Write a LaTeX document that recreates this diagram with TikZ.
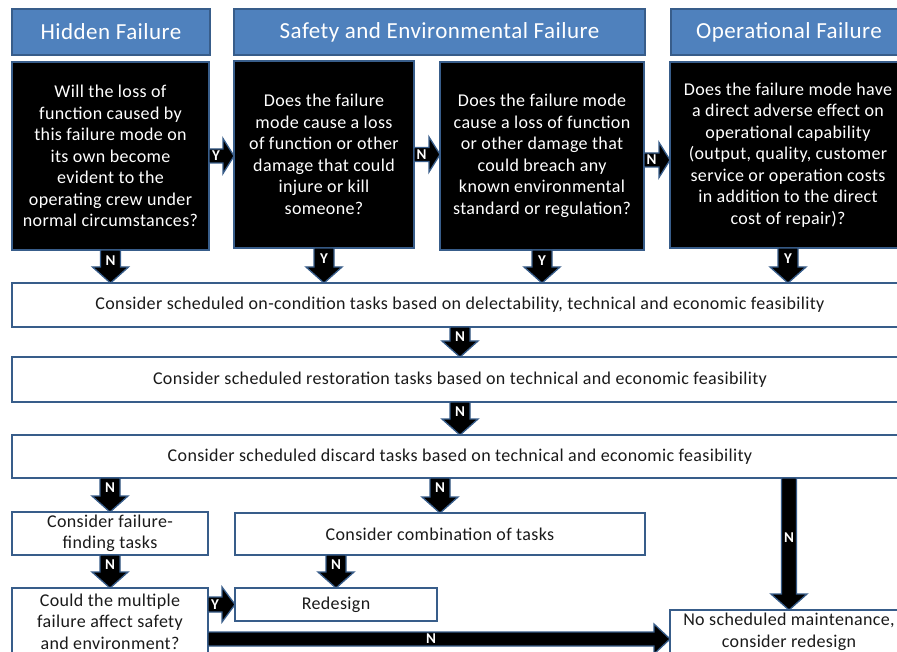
\documentclass[tikz,border=0pt]{standalone}
\usepackage{fontspec}
\setmainfont{Carlito}[LetterSpace=2]
\usetikzlibrary{calc}
\definecolor{hdrfill}{HTML}{4F81BD}
\definecolor{edge}{HTML}{385D8A}
\definecolor{ink}{HTML}{1A1A1A}

% fat block arrow pointing down: start, tip, label, label drop, half shaft width
\newcommand\vfat[5]{%
  \draw[fatarrow] let \p1=#1, \p2=#2 in
    (\x1-#5pt,\y1) -- (\x1-#5pt,\y2+16pt) -- (\x1-18pt,\y2+16pt) -- (\x1,\y2)
    -- (\x1+18pt,\y2+16pt) -- (\x1+#5pt,\y2+16pt) -- (\x1+#5pt,\y1) -- cycle;
  \path let \p1=#1 in node[flag] at (\x1,\y1-#4pt) {#3};
}
% fat block arrow pointing right: start, tip, label, half shaft, half head, head length
\newcommand\hfat[6]{%
  \draw[fatarrow] let \p1=#1, \p2=#2 in
    (\x1,\y1+#4pt) -- (\x2-#6pt,\y1+#4pt) -- (\x2-#6pt,\y1+#5pt) -- (\x2,\y1)
    -- (\x2-#6pt,\y1-#5pt) -- (\x2-#6pt,\y1-#4pt) -- (\x1,\y1-#4pt) -- cycle;
  \path let \p1=#1, \p2=#2 in node[flag] at ({(\x1+\x2-#6pt)/2},\y1) {#3};
}

\tikzset{
  box/.style={draw=edge, line width=1.6pt, inner sep=0pt, outer sep=0pt,
    align=center, anchor=north west, text=ink,
    font=\fontsize{18}{21.5}\selectfont},
  header/.style={box, fill=hdrfill, text=white, font=\fontsize{23}{26}\selectfont},
  question/.style={box, fill=black, text=white},
  task/.style={box, fill=white},
  fatarrow/.style={fill=black, draw=edge, line width=1.3pt, line join=miter},
  flag/.style={text=white, inner sep=0pt, font=\fontsize{15}{15}\selectfont\bfseries},
}

\begin{document}
\begin{tikzpicture}[x=1pt, y=1pt]
\useasboundingbox (0,0) rectangle (897,-652);
\clip (0,0) rectangle (897,-652);
\fill[white] (0,0) rectangle (897,-652);

% category headers
\node[header, minimum width=198, minimum height=46] (h1) at (12,-9) {Hidden Failure};
\node[header, minimum width=411, minimum height=46] (h2) at (234,-9) {Safety and Environmental Failure};
\node[header, minimum width=236, minimum height=46] (h3) at (671,-9) {Operational Failure};

% decision questions
\node[question, minimum width=197, minimum height=188] (q1) at (12,-62)
  {Will the loss of\\function caused by\\this failure mode on\\its own become\\evident to the\\operating crew under\\normal circumstances?};
\node[question, minimum width=180, minimum height=187] (q2) at (234,-61)
  {Does the failure\\mode cause a loss\\of function or other\\damage that could\\injure or kill\\someone?};
\node[question, minimum width=204, minimum height=188] (q3) at (440,-62)
  {Does the failure mode\\cause a loss of function\\or other damage that\\could breach any\\known environmental\\standard or regulation?};
\node[question, minimum width=236, minimum height=186] (q4) at (670,-62)
  {Does the failure mode have\\a direct adverse effect on\\operational capability\\(output, quality, customer\\service or operation costs\\in addition to the direct\\cost of repair)?};

% task selection sequence
\node[task, minimum width=896, minimum height=44] (w1) at (12,-283)
  {Consider scheduled on-condition tasks based on delectability, technical and economic feasibility};
\node[task, minimum width=896, minimum height=45] (w2) at (12,-357)
  {Consider scheduled restoration tasks based on technical and economic feasibility};
\node[task, minimum width=896, minimum height=43] (w3) at (12,-435)
  {Consider scheduled discard tasks based on technical and economic feasibility};
\node[task, minimum width=196, minimum height=43] (ff) at (12,-512)
  {Consider failure-\\finding tasks};
\node[task, minimum width=410, minimum height=42] (comb) at (235,-513)
  {Consider combination of tasks};
\node[task, minimum width=202, minimum height=33] (redesign) at (235,-588) {Redesign};
\node[task, minimum width=196, minimum height=67] (could) at (12,-588)
  {Could the multiple\\failure affect safety\\and environment?};
\node[task, minimum width=238, minimum height=44] (nosched) at (670,-610)
  {No scheduled maintenance,\\consider redesign};
\coordinate (nIn) at ([yshift=-7pt]nosched.west);

% connectors between questions
\hfat{(q1.east)}{(q2.west)}{Y}{7}{17.5}{11}
\hfat{(q2.east)}{(q3.west)}{N}{7}{17.5}{11}
\hfat{([yshift=-4pt]q3.east)}{(q4.west)}{N}{7}{17.5}{11}

% connectors into the task sequence
\vfat{(q1.south)}{(w1.north)}{N}{11}{10}
\vfat{(q2.south)}{(w1.north)}{Y}{11}{10}
\vfat{(q3.south)}{(w1.north)}{Y}{11}{10}
\vfat{(q4.south)}{(w1.north)}{Y}{11}{10}
\vfat{(w1.south)}{(w2.north)}{N}{10}{10}
\vfat{(w2.south)}{(w3.north)}{N}{10}{10}
\vfat{(w3.south -| ff.north)}{(ff.north)}{N}{10}{10}
\vfat{(w3.south -| comb.north)}{(comb.north)}{N}{10}{10}
\vfat{(ff.south)}{(could.north)}{N}{10}{10}
\vfat{(comb.south -| redesign.north)}{(redesign.north)}{N}{10}{10}
\vfat{(w3.south -| nosched.north)}{(nosched.north)}{N}{60}{7.5}

% outcomes of the multiple-failure question
\hfat{(could.east |- redesign.west)}{(redesign.west)}{Y}{7.5}{17.5}{13}
\hfat{(could.east |- nIn)}{(nIn)}{N}{7}{15}{16}
\end{tikzpicture}
\end{document}
